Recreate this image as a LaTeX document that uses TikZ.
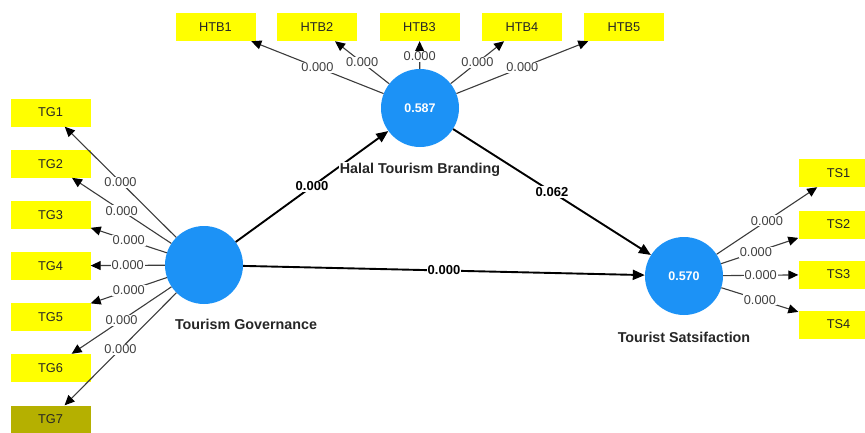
\documentclass[tikz,border=0pt]{standalone}
\usepackage{fontspec}
\setmainfont{Liberation Sans}
\usetikzlibrary{arrows.meta}
\definecolor{lvblue}{RGB}{28,146,246}
\definecolor{indy}{RGB}{255,255,0}
\definecolor{oliveseven}{RGB}{181,176,0}
\definecolor{lgray}{RGB}{60,60,60}
\begin{document}
\begin{tikzpicture}[x=1pt,y=-1pt,
  lv/.style={circle,fill=lvblue,minimum size=78pt,inner sep=0pt,text=white,font=\fontsize{12.5}{12.5}\selectfont\bfseries},
  ind/.style={fill=indy,minimum width=80pt,minimum height=28pt,inner sep=0pt,font=\fontsize{12.8}{12.8}\selectfont,text=black!85},
  outer/.style={draw=lgray,line width=1.1pt,-{Triangle[length=10pt,width=9pt,color=black]}},
  inner/.style={draw=black,line width=1.9pt,-{Triangle[length=12pt,width=10pt]}},
  wl/.style={fill=white,inner sep=1pt,font=\fontsize{12.8}{12.8}\selectfont,text=black!75},
  pl/.style={fill=white,inner sep=1pt,font=\fontsize{13}{13}\selectfont\bfseries},
  lvname/.style={fill=white,inner sep=1pt,font=\fontsize{14.3}{14.3}\selectfont\bfseries,text=black!85}]
\useasboundingbox (0,0) rectangle (865,432);
% latent variables
\node[lv] (tg) at (204,265) {};
\node[lv] (htb) at (420,108) {0.587};
\node[lv] (ts) at (684,276) {0.570};
% TG indicators
\node[ind] (tg1) at (50.5,112.5) {TG1};
\node[ind] (tg2) at (50.5,163.6) {TG2};
\node[ind] (tg3) at (50.5,214.7) {TG3};
\node[ind] (tg4) at (50.5,265.8) {TG4};
\node[ind] (tg5) at (50.5,316.9) {TG5};
\node[ind] (tg6) at (50.5,368) {TG6};
\node[ind,fill=oliveseven] (tg7) at (50.5,419.5) {TG7};
% HTB indicators
\node[ind] (htb1) at (215.5,27) {HTB1};
\node[ind] (htb2) at (317,27) {HTB2};
\node[ind] (htb3) at (419.5,27) {HTB3};
\node[ind] (htb4) at (522,27) {HTB4};
\node[ind] (htb5) at (624,27) {HTB5};
% TS indicators
\node[ind] (ts1) at (838.5,173) {TS1};
\node[ind] (ts2) at (838.5,224.5) {TS2};
\node[ind] (ts3) at (838.5,274.5) {TS3};
\node[ind] (ts4) at (838.5,324.5) {TS4};
% outer loadings
\draw[outer] (tg) -- node[wl,pos=0.5] (l1) {0.000} (tg1);
\draw[outer] (tg) -- node[wl,pos=0.5] (l2) {0.000} (tg2);
\draw[outer] (tg) -- node[wl,pos=0.5] (l3) {0.000} (tg3);
\draw[outer] (tg) -- node[wl,pos=0.5] (l4) {0.000} (tg4);
\draw[outer] (tg) -- node[wl,pos=0.5] (l5) {0.000} (tg5);
\draw[outer] (tg) -- node[wl,pos=0.5] (l6) {0.000} (tg6);
\draw[outer] (tg) -- node[wl,pos=0.5] (l7) {0.000} (tg7);
\draw[outer] (htb) -- node[wl,pos=0.5] (h1) {0.000} (htb1);
\draw[outer] (htb) -- node[wl,pos=0.5] (h2) {0.000} (htb2);
\draw[outer] (htb) -- node[wl,pos=0.45] (h3) {0.000} (htb3);
\draw[outer] (htb) -- node[wl,pos=0.5] (h4) {0.000} (htb4);
\draw[outer] (htb) -- node[wl,pos=0.5] (h5) {0.000} (htb5);
\draw[outer] (ts) -- node[wl,pos=0.5] (s1) {0.000} (ts1);
\draw[outer] (ts) -- node[wl,pos=0.45] (s2) {0.000} (ts2);
\draw[outer] (ts) -- node[wl,pos=0.5] (s3) {0.000} (ts3);
\draw[outer] (ts) -- node[wl,pos=0.5] (s4) {0.000} (ts4);
% structural paths
\draw[inner] (tg) -- node[pl,pos=0.5] (p1) {0.000} (htb);
\draw[inner] (htb) -- node[pl,pos=0.5] (p2) {0.062} (ts);
\draw[inner] (tg) -- node[pl,pos=0.5] (p3) {0.000} (ts);
% latent variable names
\node[lvname] (tgname) at (246,324) {Tourism Governance};
\node[lvname] (htbname) at (420,170) {Halal Tourism Branding};
\node[lvname] (tsname) at (684,337) {Tourist Satsifaction};
\end{tikzpicture}
\end{document}
